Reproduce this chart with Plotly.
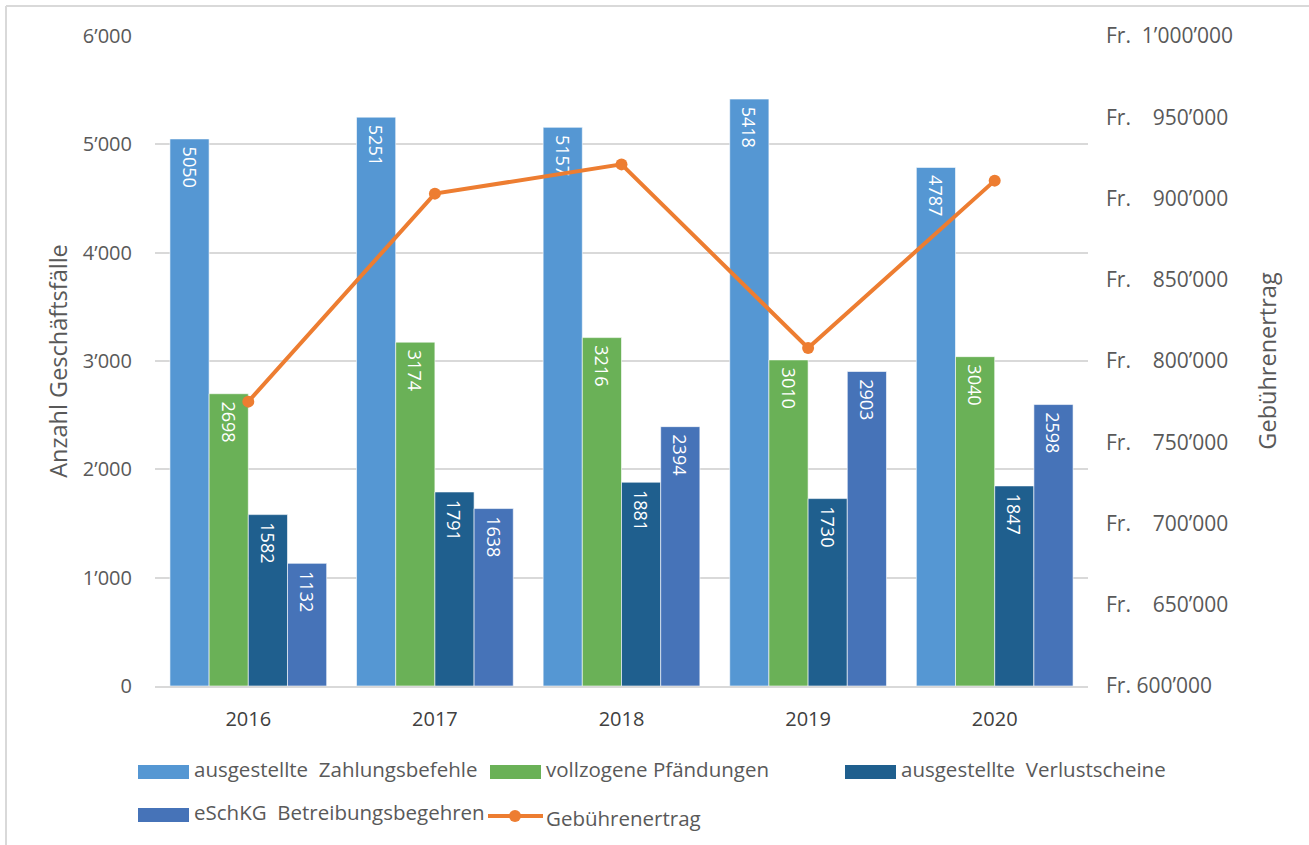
import plotly.graph_objects as go

years = ["2016", "2017", "2018", "2019", "2020"]
zahlungsbefehle = [5050, 5251, 5157, 5418, 4787]
pfaendungen = [2698, 3174, 3216, 3010, 3040]
verlustscheine = [1582, 1791, 1881, 1730, 1847]
eschkg = [1132, 1638, 2394, 2903, 2598]
gebuehren = [775000, 903000, 921000, 808000, 911000]

left_ticks = [0, 1000, 2000, 3000, 4000, 5000, 6000]
right_ticks = [600000, 650000, 700000, 750000, 800000, 850000, 900000, 950000, 1000000]


def swiss(v):
    return f"{v:,}".replace(",", "\u2019")


left_text = [swiss(v) for v in left_ticks]
right_text = []
for v in right_ticks:
    s = swiss(v)
    if v == 600000:
        right_text.append("Fr. " + s)
    elif v == 1000000:
        right_text.append("Fr.\u00a0 " + s)
    else:
        right_text.append("Fr.\u00a0\u00a0\u00a0 " + s)

FONT = "'Open Sans', sans-serif"
GREY = "#595959"
NB = "\u00a0"

bars = [
    ("ausgestellte" + NB + " Zahlungsbefehle", zahlungsbefehle, "#5597D3"),
    ("vollzogene Pfändungen", pfaendungen, "#6AB157"),
    ("ausgestellte" + NB + " Verlustscheine", verlustscheine, "#1F5F8E"),
    ("eSchKG" + NB + " Betreibungsbegehren", eschkg, "#4673B8"),
]
line_name = "Gebührenertrag"
line_color = "#ED7D31"

fig = go.Figure()
for name, vals, color in bars:
    fig.add_trace(go.Bar(
        x=years, y=vals, name=name,
        marker=dict(color=color, line=dict(color="white", width=0.6)),
        text=[NB + str(v) for v in vals],
        textposition="inside", insidetextanchor="end", textangle=90,
        constraintext="none",
        textfont=dict(color="white", size=18, family=FONT),
    ))

fig.add_trace(go.Scatter(
    x=years, y=gebuehren, name=line_name, yaxis="y2",
    mode="lines+markers",
    line=dict(color=line_color, width=4),
    marker=dict(color=line_color, size=12),
))

W, H = 1309, 845
L, R, T, B = 155, 221, 36, 159
pw, ph = W - L - R, H - T - B


def px(x):
    return (x - L) / pw


def py(y):
    return (H - B - y) / ph


# light frame around the chart
fig.add_shape(type="line", xref="paper", yref="paper",
              x0=px(6), x1=px(W + 5), y0=py(6), y1=py(6),
              line=dict(color="#D9D9D9", width=2))
fig.add_shape(type="line", xref="paper", yref="paper",
              x0=px(6), x1=px(6), y0=py(6), y1=py(H + 5),
              line=dict(color="#D9D9D9", width=2))

# legend laid out like the original (3 + 2 entries, wide swatches)
slots = [(138, 772), (490, 772), (845, 772), (138, 815)]
for (name, _, color), (lx, ly) in zip(bars, slots):
    fig.add_shape(type="rect", xref="paper", yref="paper",
                  x0=px(lx), x1=px(lx + 51), y0=py(ly - 7), y1=py(ly + 7),
                  line=dict(width=0), fillcolor=color)
    fig.add_annotation(xref="paper", yref="paper", x=px(lx + 54), y=py(ly - 3),
                       text=name, showarrow=False, xanchor="left", yanchor="middle",
                       font=dict(size=20.5, color=GREY, family=FONT))
lx, ly = 488, 816
fig.add_shape(type="line", xref="paper", yref="paper",
              x0=px(lx), x1=px(lx + 55), y0=py(ly), y1=py(ly),
              line=dict(color=line_color, width=4))
fig.add_shape(type="circle", xref="paper", yref="paper",
              x0=px(lx + 21), x1=px(lx + 33), y0=py(ly - 6), y1=py(ly + 6),
              line=dict(width=0), fillcolor=line_color)
fig.add_annotation(xref="paper", yref="paper", x=px(lx + 56), y=py(ly + 2),
                   text=line_name, showarrow=False, xanchor="left", yanchor="middle",
                   font=dict(size=20.5, color=GREY, family=FONT))

fig.update_layout(
    width=W, height=H,
    margin=dict(l=L, r=R, t=T, b=B, autoexpand=False),
    paper_bgcolor="white", plot_bgcolor="white",
    font=dict(family=FONT, size=18, color=GREY),
    barmode="group", bargap=0.16, bargroupgap=0,
    showlegend=False,
    xaxis=dict(
        showline=True, linecolor="#D9D9D9", linewidth=2,
        ticks="", tickfont=dict(size=20, color="#404040"),
        ticklabelstandoff=14, automargin=False,
    ),
    yaxis=dict(
        range=[0, 6000], tickvals=left_ticks, ticktext=left_text,
        showgrid=True, gridcolor="#D9D9D9", gridwidth=2,
        zeroline=False, ticks="", ticklabelstandoff=22, automargin=False,
        tickfont=dict(size=20, color=GREY),
        title=dict(text="Anzahl Geschäftsfälle", font=dict(size=23.5, color=GREY), standoff=8),
    ),
    yaxis2=dict(
        overlaying="y", side="right",
        range=[600000, 1000000], tickvals=right_ticks, ticktext=right_text,
        showgrid=False, zeroline=False, ticks="", ticklabelstandoff=17, automargin=False,
        tickfont=dict(size=21, color=GREY),
        title=dict(text="Gebührenertrag", font=dict(size=23.5, color=GREY), standoff=27),
    ),
)

fig.write_html("out.html", config={"displayModeBar": False},
               post_script="document.body.style.margin = '0';")
